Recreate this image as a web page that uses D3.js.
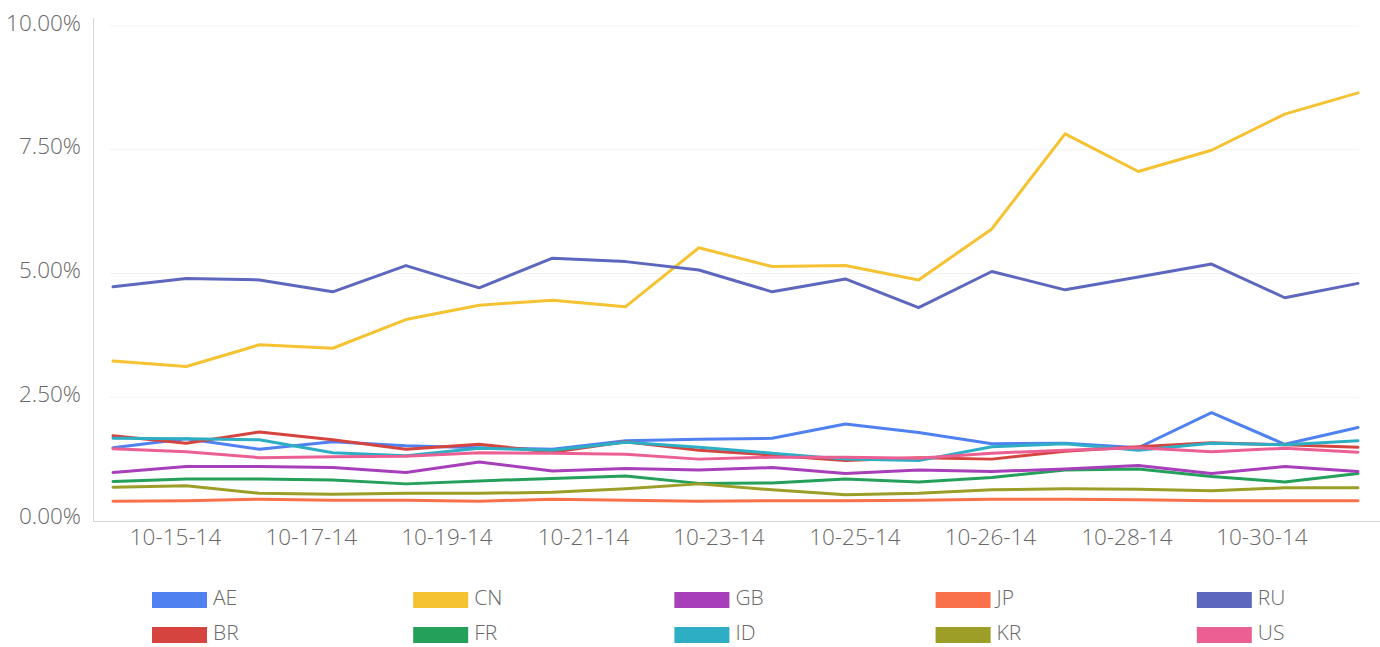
<!DOCTYPE html>
<html>
<head>
<meta charset="utf-8">
<script src="https://cdn.jsdelivr.net/npm/d3@7"></script>
<style>
  html, body { margin: 0; padding: 0; background: #fff; }
  svg { display: block; font-family: "Open Sans", sans-serif; font-weight: 300; }
</style>
</head>
<body>
<svg id="chart" width="1380" height="647"></svg>
<script>
// ---- data ----
const categories = ["10-14-14","10-15-14","10-16-14","10-17-14","10-18-14","10-19-14","10-20-14","10-21-14","10-22-14",
  "10-23-14","10-24-14","10-25-14","10-26-14","10-26-14b","10-27-14","10-28-14","10-29-14","10-30-14"];
const seriesNames = ["AE","BR","CN","FR","GB","ID","JP","KR","RU","US"];
const seriesColors = ["#4f81f0","#d5443f","#f5c232","#24a05a","#a83fba","#2eaec4","#f9714b","#9c9e27","#5c67bd","#ec5f93"];
const AE = [1.48,1.66,1.45,1.60,1.52,1.48,1.45,1.62,1.65,1.67,1.96,1.79,1.56,1.57,1.48,2.19,1.55,1.89];
const BR = [1.72,1.57,1.80,1.64,1.45,1.55,1.39,1.60,1.43,1.33,1.22,1.28,1.25,1.41,1.50,1.58,1.54,1.49];
const CN = [3.23,3.12,3.56,3.49,4.07,4.36,4.46,4.33,5.52,5.14,5.16,4.87,5.90,7.82,7.06,7.49,8.22,8.65];
const FR = [0.80,0.85,0.85,0.83,0.75,0.81,0.86,0.91,0.76,0.77,0.85,0.79,0.88,1.03,1.05,0.90,0.79,0.96];
const GB = [0.98,1.10,1.10,1.08,0.98,1.19,1.01,1.06,1.03,1.08,0.96,1.03,1.00,1.05,1.12,0.96,1.10,1.00];
const ID = [1.67,1.66,1.64,1.38,1.32,1.47,1.43,1.59,1.49,1.37,1.25,1.22,1.50,1.56,1.43,1.57,1.54,1.62];
const JP = [0.40,0.41,0.44,0.42,0.42,0.40,0.44,0.42,0.40,0.41,0.41,0.42,0.44,0.44,0.43,0.41,0.41,0.41];
const KR = [0.68,0.71,0.56,0.54,0.56,0.56,0.58,0.65,0.75,0.63,0.53,0.56,0.63,0.65,0.64,0.61,0.67,0.67];
const RU = [4.73,4.90,4.87,4.63,5.16,4.71,5.31,5.24,5.07,4.63,4.89,4.31,5.04,4.67,4.93,5.19,4.51,4.80];
const US = [1.46,1.40,1.28,1.30,1.31,1.38,1.37,1.35,1.25,1.29,1.29,1.27,1.37,1.43,1.48,1.40,1.47,1.39];
const yTicks = [0, 2.5, 5, 7.5, 10];
const xTickLabels = ["10-15-14","10-17-14","10-19-14","10-21-14","10-23-14","10-25-14","10-26-14","10-28-14","10-30-14"];
const xTickAt = [0.847, 2.700, 4.553, 6.417, 8.267, 10.124, 11.974, 13.838, 15.681]; // in category-index units

const seriesValues = [AE, BR, CN, FR, GB, ID, JP, KR, RU, US];
const series = seriesNames.map((n, k) => ({ name: n, color: seriesColors[k], values: seriesValues[k] }));

// ---- layout ----
const svg = d3.select("#chart");
const x = d3.scaleLinear().domain([0, categories.length - 1]).range([113, 1358]);
const y = d3.scaleLinear().domain([0, 10]).range([521, 26]);
const textColor = "#686868";

// gridlines
svg.append("g").selectAll("line").data(yTicks.filter(d => d > 0)).join("line")
  .attr("x1", 110).attr("x2", 1359)
  .attr("y1", d => y(d)).attr("y2", d => y(d))
  .attr("stroke", "#f2f2f2").attr("stroke-width", 1);

// y axis line
svg.append("line").attr("x1", 93.5).attr("x2", 93.5).attr("y1", 18).attr("y2", y(0))
  .attr("stroke", "#d4d4d4").attr("stroke-width", 1);
// baseline
svg.append("line").attr("x1", 93).attr("x2", 1380).attr("y1", y(0) + 0.5).attr("y2", y(0) + 0.5)
  .attr("stroke", "#d4d4d4").attr("stroke-width", 1);

// y labels
const yAxis = d3.axisLeft(y).tickValues(yTicks).tickFormat(d => d.toFixed(2) + "%").tickSize(0).tickPadding(0);
const gy = svg.append("g").attr("transform", "translate(81,0)").call(yAxis);
gy.select(".domain").remove();
gy.selectAll("text").attr("fill", textColor).style("font-size", "22.5px")
  .style("font-family", "'Open Sans', sans-serif").style("font-weight", 300)
  .attr("dy", "0.32em").attr("y", d => d === 0 ? -5 : -3);

// x labels
const xAxis = d3.axisBottom(x).tickValues(xTickAt).tickFormat((d, i) => xTickLabels[i]).tickSize(0).tickPadding(0);
const gx = svg.append("g").attr("transform", "translate(0,529)").call(xAxis);
gx.select(".domain").remove();
gx.selectAll("text").attr("fill", textColor).style("font-size", "22.5px")
  .style("font-family", "'Open Sans', sans-serif").style("font-weight", 300).attr("dy", "0.71em");

// lines
const line = d3.line().x((d, i) => x(i)).y(d => y(d));
svg.append("g").selectAll("path").data(series).join("path")
  .attr("d", s => line(s.values))
  .attr("fill", "none").attr("stroke", s => s.color)
  .attr("stroke-width", 3).attr("stroke-linejoin", "round").attr("stroke-linecap", "round");

// legend (5 columns x 2 rows, column-major)
const lg = svg.append("g");
const items = lg.selectAll("g").data(series).join("g")
  .attr("transform", (s, i) => `translate(${152 + Math.floor(i / 2) * 261.2},${592 + (i % 2) * 35})`);
items.append("rect").attr("width", 55).attr("height", 16).attr("fill", s => s.color);
items.append("text").attr("x", 61).attr("y", 5.5).attr("dy", "0.36em")
  .attr("fill", textColor).style("font-size", "21px")
  .text(s => s.name);
</script>
</body>
</html>
